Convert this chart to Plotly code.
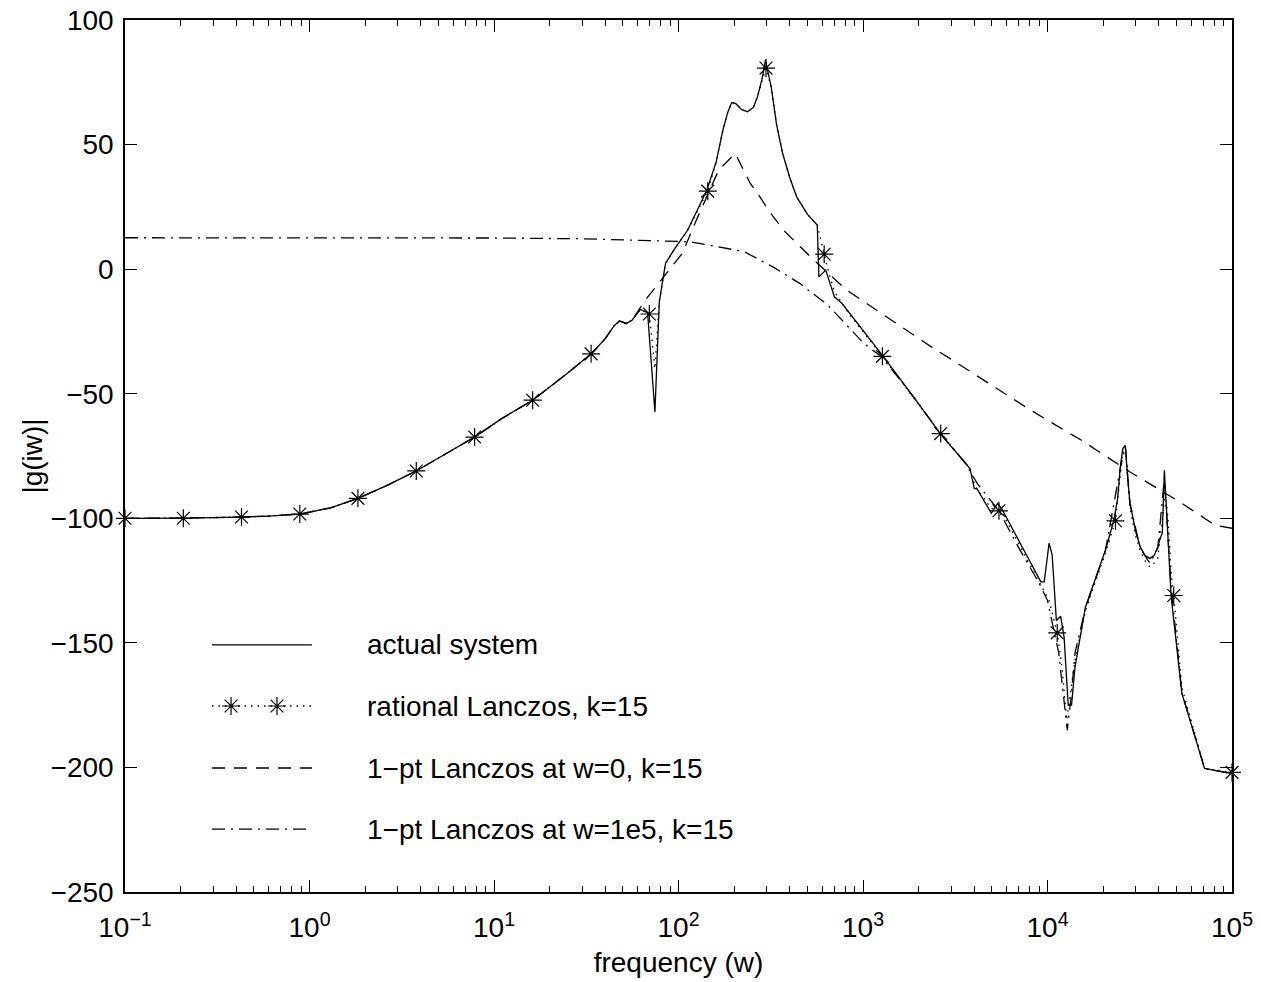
import plotly.graph_objects as go

# ---------------- data ----------------
actual_w = [0.1, 0.207, 0.428, 0.6, 0.886, 1.3, 1.83, 2.6, 3.79, 5.5, 7.85, 11, 16.2, 25, 33.6,
            40, 45, 48, 52, 56, 62, 68, 74.5, 78.7, 85, 95, 112, 142, 160, 174, 185, 194, 204, 220, 237,
            255, 268, 285, 296, 318, 340, 367, 400, 437, 500, 565, 577, 628, 700, 770, 1287, 1936, 2620, 3550,
            3800, 4010, 4160, 4960, 5370, 5700, 9200, 9600, 10200, 10600, 11170, 11780,
            12300, 12950, 13500, 14100, 16060, 20600, 22900, 24000, 24800, 25600, 26400, 27200, 28000,
            30000, 31800, 33800, 35900, 37800, 39600, 40800, 41900, 43000, 44700, 46800, 53500, 71000, 100000]
actual_y = [-100, -99.9, -99.5, -99.1, -98.3, -95.8, -92, -87, -81, -74, -67.4, -60, -52.6, -41.8, -34,
            -28, -22.5, -20.8, -21.8, -20.5, -16.2, -17.5, -57.3, -13.1, 2.3, 8, 15.6, 31.5, 43, 55.8, 63, 66.8, 66.5, 64, 63.2,
            65, 69.2, 77, 83.9, 73.2, 58, 46.4, 37, 29, 22, 17.7, -3.1, -0.4, -11.1, -13.8, -35, -52.6, -66, -77.4,
            -80, -88, -88.3, -98, -94, -96.7, -125.5, -125.5, -110, -114.8, -141, -139.3,
            -147.6, -175, -175, -159.6, -135.6, -112.8, -100.8, -92, -79.4, -72, -70.7, -84, -94,
            -105, -111.5, -115, -116.1, -115, -111.5, -108, -106, -80.7, -102, -131.5, -170.3, -200.4, -202.5]

rational_w = [0.1, 0.207, 0.428, 0.6, 0.886, 1.3, 1.83, 2.6, 3.79, 5.5, 7.85, 11, 16.2, 25, 33.6,
              40, 45, 48, 52, 56, 62, 69.5, 74.5, 78.7, 85, 95, 112, 144, 160, 174, 185, 194, 204, 220, 237,
              255, 268, 285, 298, 318, 340, 367, 400, 437, 500, 565, 600, 616, 650, 700, 770, 840, 1274, 1936, 2637,
              3550, 3800, 4010, 4160, 4960, 5456, 5700, 9200, 10200, 11288, 12000, 12700, 13300,
              14100, 16060, 20600, 23357, 24800, 25600, 26400, 27200, 28000, 30000, 31800, 33800, 35900,
              37800, 39600, 42000, 43500, 45000, 46800, 48329, 53500, 71000, 100000]
rational_y = [-100, -99.9, -99.5, -99.1, -98.3, -95.8, -92, -87, -81, -74, -67.4, -60, -52.6, -41.8, -34,
              -28, -22.5, -20.8, -21.8, -20.5, -16.2, -18, -40, -13.1, 2.3, 8, 15.6, 31.3, 43, 55.8, 63, 66.8, 66.5, 64, 63.2,
              65, 69.2, 76, 80.7, 73.2, 58, 46.4, 37, 29, 22, 17.7, 10, 6, -1, -9, -14, -18, -35, -52.6, -66,
              -77.4, -80, -86, -88.3, -96, -97, -98, -127, -133, -146, -160, -181, -170,
              -157, -137, -114, -101, -82, -73, -71, -85, -96, -107, -113, -117, -119.5,
              -118, -116, -100, -89, -100, -122, -131, -168, -200.4, -202]

star_w = [0.1, 0.207, 0.428, 0.886, 1.83, 3.79, 7.85, 16.2, 33.6, 69.5,
          144, 298, 616, 1274, 2637, 5456, 11288, 23357, 48329, 100000]
star_y = [-100, -100, -99.5, -98.3, -92, -81, -67.4, -52.6, -34, -18,
          31.3, 80.7, 6, -35, -66, -97, -146, -101, -131, -202]

pt0_w = [0.1, 0.207, 0.428, 0.6, 0.886, 1.3, 1.83, 2.6, 3.79, 5.5, 7.85, 11, 16.2, 25, 33.6,
         40, 45, 48, 52, 56, 62, 66, 73, 82, 92, 105, 125, 165, 203, 245, 265, 312, 370,
         520, 815, 1337, 2345, 3160, 4370, 8100, 15200, 28000, 52000, 81000, 100000]
pt0_y = [-100, -99.9, -99.5, -99.1, -98.3, -95.8, -92, -87, -81, -74, -67.4, -60, -52.6, -41.8, -34,
         -28, -22.5, -20.8, -21.8, -20.5, -15.5, -12.4, -8.4, -3.7, 0.9, 6.4, 19.7, 39.7, 46.4, 34.4, 31, 23, 15.7,
         4.9, -8.4, -19.1, -31.2, -37.2, -43.9, -56.6, -68.6, -81.4, -93.4, -102.8, -104]

pt1e5_w = [0.1, 1, 10, 30, 86, 115, 148, 227, 325, 454, 646, 885, 1010, 1250, 1600, 1936,
           2620, 3550, 4160, 5450, 7000, 9000, 10000, 11500, 12300, 12800, 13500, 14100,
           15200, 16060, 20600, 24800, 26400, 28000, 31800, 35900, 39600, 43000, 46800,
           53500, 71000, 100000]
pt1e5_y = [12.6, 12.6, 12.5, 12.2, 11.4, 11, 9.6, 7, 0.9, -5.7, -14.5, -25.2, -29.8, -35, -44.6, -52.6,
           -66, -77.4, -86, -97, -112, -126, -133, -154, -175, -185, -170, -154,
           -143.6, -136, -113, -80, -71, -94, -112, -118, -112, -84, -128,
           -170, -200.4, -202.5]

legend_labels = ["actual system", "rational Lanczos, k=15",
                 "1\u2212pt Lanczos at w=0, k=15", "1\u2212pt Lanczos at w=1e5, k=15"]

x_tick_vals = [0.1, 1, 10, 100, 1000, 10000, 100000]
x_tick_text = ["10<sup>\u22121</sup>", "10<sup>0</sup>", "10<sup>1</sup>", "10<sup>2</sup>",
               "10<sup>3</sup>", "10<sup>4</sup>", "10<sup>5</sup>"]

# ---------------- styles ----------------
FONT = "Liberation Sans, Arial, Helvetica, sans-serif"
FS = 28
LW = 1.3
DASH = "13px,9px"
DASHDOT = "13px,6px,2px,6px"
DOT = "1.5px,5px"
STAR = dict(symbol="asterisk-open", size=15, color="black", line=dict(color="black", width=1.2))

fig = go.Figure()
fig.add_trace(go.Scatter(x=actual_w, y=actual_y, mode="lines",
                         line=dict(color="black", width=LW), showlegend=False))
fig.add_trace(go.Scatter(x=rational_w, y=rational_y, mode="lines",
                         line=dict(color="black", width=LW, dash=DOT), showlegend=False))
fig.add_trace(go.Scatter(x=star_w, y=star_y, mode="markers", marker=STAR,
                         showlegend=False, cliponaxis=False))
fig.add_trace(go.Scatter(x=pt0_w, y=pt0_y, mode="lines",
                         line=dict(color="black", width=LW, dash=DASH), showlegend=False))
fig.add_trace(go.Scatter(x=pt1e5_w, y=pt1e5_y, mode="lines",
                         line=dict(color="black", width=LW, dash=DASHDOT), showlegend=False))

# ---------------- manual legend (drawn in an overlay 0..1 frame) ----------------
leg_x0, leg_x1, leg_text_x = 0.0786, 0.1689, 0.2168
leg_rows = [0.2833, 0.2133, 0.1422, 0.0722]
leg_dashes = ["solid", DOT, DASH, DASHDOT]
for row, dash in zip(leg_rows, leg_dashes):
    fig.add_trace(go.Scatter(x=[leg_x0, leg_x1], y=[row, row], mode="lines",
                             line=dict(color="black", width=LW, dash=dash),
                             xaxis="x2", yaxis="y2", showlegend=False, hoverinfo="skip"))
fig.add_trace(go.Scatter(x=[0.0958, 0.1373], y=[leg_rows[1], leg_rows[1]], mode="markers",
                         marker=STAR, xaxis="x2", yaxis="y2", showlegend=False, hoverinfo="skip"))
for row, label in zip(leg_rows, legend_labels):
    fig.add_annotation(x=leg_text_x, y=row, xref="x2", yref="y2", text=label, showarrow=False,
                       xanchor="left", yanchor="middle", font=dict(size=FS, color="black", family=FONT))

minor_vals = [m * 10 ** e for e in range(-1, 5) for m in range(2, 10)]

fig.update_layout(
    width=1261, height=982,
    margin=dict(l=125, r=29, t=20, b=90, autoexpand=False),
    paper_bgcolor="white", plot_bgcolor="white",
    font=dict(family=FONT, size=FS, color="black"),
    showlegend=False,
    xaxis=dict(type="log", range=[-1, 5], tickmode="array", tickvals=x_tick_vals,
               ticktext=x_tick_text, ticks="inside", ticklen=12, tickwidth=1, tickcolor="black",
               minor=dict(tickmode="array", tickvals=minor_vals, ticks="inside", ticklen=6,
                          tickwidth=1, tickcolor="black", showgrid=False),
               showline=True, linecolor="black", linewidth=1.5, mirror="ticks",
               showgrid=False, zeroline=False, automargin=False, ticklabelstandoff=10,
               title=dict(text="frequency (w)", standoff=10, font=dict(size=FS)),
               tickfont=dict(size=FS)),
    yaxis=dict(range=[-250, 100], tickmode="linear", tick0=-250, dtick=50,
               ticks="inside", ticklen=12, tickwidth=1, tickcolor="black",
               showline=True, linecolor="black", linewidth=1.5, mirror="ticks",
               showgrid=False, zeroline=False, automargin=False, ticklabelstandoff=4,
               title=dict(text="|g(iw)|", standoff=0, font=dict(size=FS)),
               tickfont=dict(size=FS)),
    xaxis2=dict(overlaying="x", range=[0, 1], visible=False, fixedrange=True),
    yaxis2=dict(overlaying="y", range=[0, 1], visible=False, fixedrange=True),
)

fig.write_html("out.html")
